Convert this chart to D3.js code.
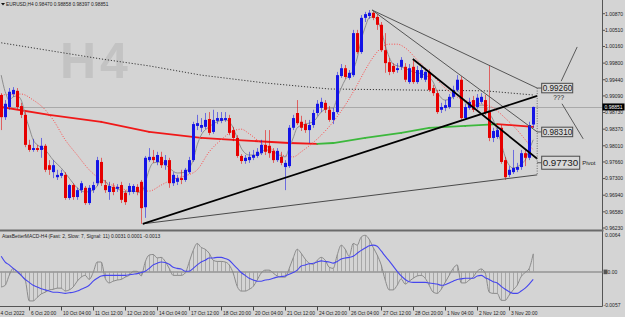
<!DOCTYPE html>
<html><head><meta charset="utf-8">
<script src="https://cdn.jsdelivr.net/npm/d3@7"></script>
<style>html,body{margin:0;padding:0;background:#d4d4d4;overflow:hidden}</style>
</head><body>
<svg id="c" width="625" height="317"></svg>
<script>
// ---------------- DATA ----------------
const symbolTitle = "EURUSD,H4";
const macdTitle = "AtasBetterMACD-H4 (Fast: 2, Slow: 7, Signal: 11) 0.0031 0.0001 -0.0013";
const opens = [0.9911,0.9863,0.9885,0.9913,0.9920,0.9887,0.9868,0.9803,0.9792,0.9796,
0.9792,0.9801,0.9759,0.9744,0.9733,0.9736,0.9738,0.9688,0.9716,0.9690,
0.9705,0.9710,0.9677,0.9705,0.9720,0.9766,0.9716,0.9701,0.9712,0.9708,
0.9716,0.9699,0.9701,0.9701,0.9712,0.9723,0.9668,0.9770,0.9777,0.9766,
0.9777,0.9759,0.9770,0.9720,0.9723,0.9731,0.9727,0.9744,0.9770,0.9844,
0.9840,0.9842,0.9859,0.9831,0.9855,0.9855,0.9857,0.9861,0.9835,0.9818,
0.9779,0.9768,0.9770,0.9775,0.9779,0.9785,0.9803,0.9801,0.9790,0.9770,
0.9777,0.9755,0.9757,0.9840,0.9872,0.9853,0.9848,0.9835,0.9846,0.9872,
0.9883,0.9894,0.9879,0.9857,0.9874,0.9952,0.9969,0.9948,0.9954,1.0045,
1.0004,1.0078,1.0082,1.0089,1.0080,1.0063,1.0008,0.9982,0.9974,0.9965,
0.9972,0.9972,0.9939,0.9972,0.9939,0.9948,0.9944,0.9961,0.9926,0.9915,
0.9879,0.9883,0.9885,0.9907,0.9922,0.9944,0.9861,0.9883,0.9900,0.9885,
0.9896,0.9900,0.9874,0.9818,0.9820,0.9840,0.9770,0.9738,0.9744,0.9749,
0.9755,0.9785,0.9775,0.98470];
const highs = [0.9915,0.9900,0.9926,0.9928,0.9926,0.9894,0.9874,0.9814,0.9816,0.9803,
0.9818,0.9805,0.9770,0.9770,0.9749,0.9749,0.9744,0.9718,0.9720,0.9710,
0.9725,0.9714,0.9716,0.9723,0.9777,0.9775,0.9727,0.9723,0.9720,0.9718,
0.9723,0.9705,0.9720,0.9718,0.9718,0.9727,0.9779,0.9796,0.9792,0.9788,
0.9788,0.9781,0.9775,0.9744,0.9738,0.9749,0.9753,0.9777,0.9853,0.9868,
0.9861,0.9872,0.9874,0.9879,0.9874,0.9874,0.9874,0.9868,0.9842,0.9824,
0.9783,0.9781,0.9788,0.9792,0.9796,0.9814,0.9835,0.9835,0.9796,0.9796,
0.9788,0.9770,0.9846,0.9868,0.9900,0.9866,0.9857,0.9857,0.9879,0.9900,
0.9905,0.9900,0.9887,0.9883,0.9961,0.9978,0.9976,0.9965,1.0052,1.0052,
1.0084,1.0091,1.0095,1.0093,1.0086,1.0069,1.0045,0.9991,0.9980,0.9980,
0.9993,0.9980,0.9978,0.9989,0.9974,0.9972,0.9969,0.9967,0.9933,0.9922,
0.9894,0.9900,0.9913,0.9931,0.9954,0.9952,0.9892,0.9905,0.9909,0.9913,
0.9915,0.9911,0.9976,0.9840,0.9842,0.9846,0.9777,0.9757,0.9792,0.9764,
0.9792,0.9792,0.9853,0.98858];
const lows = [0.9835,0.9857,0.9879,0.9907,0.9879,0.9861,0.9798,0.9788,0.9788,0.9788,
0.9775,0.9744,0.9738,0.9731,0.9727,0.9731,0.9684,0.9684,0.9684,0.9684,
0.9699,0.9673,0.9673,0.9699,0.9714,0.9714,0.9699,0.9684,0.9694,0.9701,
0.9677,0.9673,0.9694,0.9697,0.9694,0.9632,0.9645,0.9766,0.9764,0.9759,
0.9753,0.9749,0.9710,0.9714,0.9716,0.9718,0.9723,0.9740,0.9766,0.9835,
0.9831,0.9837,0.9824,0.9827,0.9848,0.9850,0.9853,0.9824,0.9811,0.9775,
0.9762,0.9762,0.9764,0.9770,0.9775,0.9781,0.9781,0.9775,0.9764,0.9766,
0.9759,0.9705,0.9753,0.9835,0.9846,0.9833,0.9829,0.9807,0.9840,0.9866,
0.9874,0.9872,0.9853,0.9848,0.9870,0.9948,0.9946,0.9944,0.9950,1.0000,
1.0000,1.0069,1.0076,1.0073,1.0052,1.0004,0.9959,0.9954,0.9957,0.9959,
0.9965,0.9939,0.9935,0.9935,0.9935,0.9944,0.9939,0.9918,0.9909,0.9870,
0.9872,0.9876,0.9881,0.9902,0.9918,0.9857,0.9857,0.9879,0.9874,0.9881,
0.9892,0.9868,0.9811,0.9809,0.9816,0.9762,0.9727,0.9733,0.9740,0.9744,
0.9749,0.9757,0.9770,0.98397];
const closes = [0.9863,0.9892,0.9918,0.9922,0.9885,0.9868,0.9803,0.9792,0.9796,0.9792,
0.9801,0.9749,0.9749,0.9759,0.9738,0.9742,0.9688,0.9716,0.9690,0.9705,
0.9720,0.9677,0.9710,0.9716,0.9770,0.9720,0.9705,0.9714,0.9701,0.9712,
0.9684,0.9679,0.9714,0.9714,0.9701,0.9666,0.9775,0.9777,0.9770,0.9781,
0.9759,0.9770,0.9720,0.9738,0.9731,0.9727,0.9749,0.9770,0.9848,0.9850,
0.9846,0.9857,0.9829,0.9857,0.9861,0.9861,0.9861,0.9829,0.9818,0.9779,
0.9768,0.9775,0.9777,0.9781,0.9788,0.9803,0.9788,0.9785,0.9770,0.9790,
0.9764,0.9764,0.9840,0.9861,0.9850,0.9840,0.9835,0.9846,0.9872,0.9892,
0.9896,0.9879,0.9857,0.9874,0.9954,0.9969,0.9950,0.9959,1.0045,1.0004,
1.0078,1.0086,1.0089,1.0078,1.0063,1.0008,0.9980,0.9961,0.9961,0.9969,
0.9987,0.9944,0.9969,0.9939,0.9965,0.9965,0.9961,0.9922,0.9915,0.9874,
0.9885,0.9889,0.9907,0.9922,0.9944,0.9861,0.9885,0.9896,0.9879,0.9905,
0.9907,0.9872,0.9818,0.9833,0.9835,0.9766,0.9733,0.9749,0.9753,0.9755,
0.9785,0.9775,0.9846,0.98851];

// moving averages: [bar index, price]
const maFast = [[0,0.9954],[1,0.9918],[2,0.9900],[3,0.9907],[4,0.9909],[5,0.9900],[6,0.9868],[7,0.9840],[8,0.9814],[9,0.9803],[10,0.9798],[11,0.9792],[13,0.9770],[15,0.9753],[17,0.9731],[19,0.9710],[21,0.9701],[23,0.9705],[24,0.9714],[25,0.9727],[26,0.9725],[27,0.9714],[29,0.9708],[31,0.9701],[33,0.9703],[35,0.9699],[36,0.9720],[37,0.9749],[38,0.9764],[40,0.9766],[42,0.9753],[44,0.9742],[46,0.9744],[47,0.9753],[48,0.9770],[49,0.9803],[50,0.9824],[52,0.9842],[54,0.9853],[56,0.9857],[57,0.9853],[58,0.9840],[59,0.9818],[60,0.9796],[62,0.9781],[64,0.9781],[66,0.9792],[68,0.9788],[70,0.9779],[71,0.9777],[72,0.9796],[73,0.9818],[74,0.9840],[76,0.9848],[78,0.9853],[80,0.9874],[82,0.9883],[83,0.9883],[84,0.9905],[86,0.9944],[88,0.9965],[89,0.9991],[90,1.0030],[91,1.0058],[92,1.0078],[93,1.0080],[94,1.0073],[95,1.0052],[96,1.0019],[97,0.9993],[98,0.9978],[100,0.9972],[103,0.9961],[106,0.9954],[108,0.9939],[109,0.9918],[111,0.9900],[113,0.9907],[114,0.9922],[115,0.9907],[117,0.9889],[120,0.9889],[121,0.9889],[122,0.9872],[123,0.9857],[124,0.9835],[125,0.9807],[126,0.9777],[127,0.9759],[128,0.9753],[129,0.9755],[130,0.9762],[131,0.9770],[132,0.9792],[133,0.9814]];
const maSlow = [[0,0.9911],[5,0.9913],[8,0.9900],[11,0.9879],[13,0.9857],[16,0.9814],[19,0.9781],[22,0.9749],[25,0.9727],[29,0.9712],[33,0.9703],[37,0.9703],[40,0.9716],[43,0.9729],[46,0.9736],[49,0.9749],[52,0.9788],[55,0.9814],[58,0.9833],[60,0.9837],[62,0.9827],[65,0.9807],[68,0.9792],[71,0.9779],[73,0.9777],[75,0.9788],[77,0.9801],[80,0.9824],[83,0.9853],[86,0.9889],[89,0.9933],[91,0.9965],[93,0.9993],[95,1.0013],[97,1.0021],[99,1.0021],[101,1.0013],[104,0.9987],[107,0.9961],[111,0.9926],[115,0.9902],[119,0.9894],[123,0.9883],[126,0.9861],[129,0.9835],[133,0.9792]];
const maTrend = [[0,0.9885],[12,0.9868],[25,0.9853],[37,0.9831],[50,0.9818],[58,0.9814],[72,0.9807],[79,0.9805],[83,0.9807],[91,0.9818],[100,0.9829],[107,0.9840],[116,0.9844],[124,0.9848],[133,0.9842]];
const maLong = [[0,1.0024],[25,0.9989],[37,0.9974],[50,0.9954],[66,0.9937],[82,0.9924],[100,0.9922],[121,0.9920],[133,0.9911]];

// drawn objects: [bar index, price]
const trendBlackUp = [[35.4,0.9632],[134,0.9909]];
const trendBlackDown = [[102.9,0.9989],[134,0.97730]];
const trendGrayUpper = [[92.7,1.0095],[134,0.99260]];
const trendGrayMid = [[92.7,1.0095],[134,0.98310]];
const trendGrayLow = [[35.4,0.9632],[134,0.9738]];
const projUp = [[140,0.9941],[144,1.0015]];
const projDown = [[140.2,0.9892],[145.5,0.9816]];
const vDotted = [[134,0.99260],[134,0.9738]];
const levelPrices = [0.99260, 0.98310, 0.97730];
const levelTexts = ["0.99260", "0.98310", "0.97730"];
const bidPrice = 0.98851;

// MACD panel
const macdVals = [-0.0026,-0.0023,-0.0006,0.0006,-0.0001,-0.0006,-0.0014,-0.0050,-0.0050,-0.0044,
-0.0038,-0.0035,-0.0031,-0.0030,-0.0028,-0.0028,-0.0033,-0.0031,-0.0026,-0.0016,
-0.0009,-0.0006,-0.0013,-0.0001,0.0017,0.0017,-0.0011,-0.0019,-0.0016,-0.0014,
-0.0013,-0.0009,-0.0006,0.0001,0.0001,-0.0007,0.0017,0.0029,0.0030,0.0024,
0.0025,0.0018,0.0006,-0.0006,-0.0006,-0.0006,-0.0002,0.0017,0.0037,0.0049,
0.0042,0.0039,0.0032,0.0020,0.0018,0.0018,0.0017,0.0012,-0.0002,-0.0025,
-0.0033,-0.0033,-0.0030,-0.0025,-0.0014,-0.0002,0.0003,0.0003,-0.0002,-0.0007,
-0.0009,-0.0009,0.0006,0.0024,0.0039,0.0032,0.0022,0.0015,0.0013,0.0020,
0.0025,0.0020,0.0008,0.0006,0.0029,0.0046,0.0039,0.0027,0.0049,0.0046,
0.0060,0.0063,0.0056,0.0042,0.0029,0.0012,-0.0014,-0.0031,-0.0031,-0.0023,
-0.0012,-0.0021,-0.0016,-0.0011,-0.0007,-0.0006,-0.0011,-0.0023,-0.0035,-0.0037,
-0.0030,-0.0018,-0.0006,0.0006,0.0012,-0.0019,-0.0019,-0.0014,-0.0009,0.0001,
0.0005,-0.0002,-0.0035,-0.0037,-0.0037,-0.0049,-0.0049,-0.0040,-0.0031,-0.0023,
-0.0008,-0.0001,0.0006,0.0031];
const signalVals = [0.0027,0.0017,0.0012,0.0006,0.0001,-0.0006,-0.0013,-0.0018,-0.0023,-0.0026,
-0.0029,-0.0031,-0.0033,-0.0035,-0.0035,-0.0036,-0.0037,-0.0036,-0.0035,-0.0033,
-0.0030,-0.0027,-0.0023,-0.0016,-0.0011,-0.0007,-0.0006,-0.0006,-0.0006,-0.0006,
-0.0006,-0.0006,-0.0005,-0.0004,-0.0003,-0.0001,0.0001,0.0006,0.0012,0.0015,
0.0017,0.0016,0.0013,0.0008,0.0006,0.0005,0.0001,0.0001,0.0006,0.0012,
0.0017,0.0020,0.0024,0.0024,0.0025,0.0025,0.0023,0.0020,0.0013,0.0006,
-0.0001,-0.0006,-0.0011,-0.0014,-0.0016,-0.0016,-0.0014,-0.0013,-0.0011,-0.0009,
-0.0008,-0.0007,-0.0004,-0.0001,0.0003,0.0010,0.0012,0.0014,0.0015,0.0017,
0.0019,0.0018,0.0017,0.0015,0.0018,0.0022,0.0024,0.0025,0.0027,0.0032,
0.0037,0.0041,0.0045,0.0046,0.0044,0.0036,0.0027,0.0019,0.0010,0.0001,
-0.0007,-0.0013,-0.0017,-0.0018,-0.0018,-0.0018,-0.0018,-0.0019,-0.0020,-0.0021,
-0.0023,-0.0022,-0.0019,-0.0016,-0.0013,-0.0012,-0.0011,-0.0011,-0.0011,-0.0007,
-0.0006,-0.0010,-0.0013,-0.0017,-0.0019,-0.0025,-0.0030,-0.0034,-0.0037,-0.0037,
-0.0033,-0.0028,-0.0021,-0.0013];

const priceTicks = [1.00870,1.00510,1.00160,0.99800,0.99440,0.99090,0.98730,0.98370,0.98010,0.97660,0.97300,0.96940,0.96580,0.96230];
const macdTicks = [0.0064, 0.0, -0.0057];
const macdTickText = ["0.0064", "0.00", "-0.0057"];
const timeTickIdx = [-0.3,7,15,23,31,39,47,55,63,71,79,87,95,103,111,119,127];
const timeTickText = ["4 Oct 2022","6 Oct 20:00","10 Oct 04:00","11 Oct 12:00","12 Oct 20:00","14 Oct 04:00","17 Oct 12:00","18 Oct 20:00","20 Oct 04:00","21 Oct 12:00","24 Oct 20:00","26 Oct 04:00","27 Oct 12:00","28 Oct 20:00","1 Nov 04:00","2 Nov 12:00","3 Nov 20:00"];

// ---------------- DRAW ----------------
const F = "'Liberation Sans', Arial, sans-serif";
const BG = "#d4d4d4", BULL = "#1414e6", BEAR = "#e60000";
const svg = d3.select("#c");
const W = 625, H = 317, AX = 602.5;
const x = d3.scaleLinear().domain([0, 133]).range([1.2, 533.2]);
const y = d3.scaleLinear().domain([0.96230, 1.00870]).range([228, 13.7]);
const yM = d3.scaleLinear().domain([-0.0057, 0.0064]).range([305, 234.7]);

svg.append("rect").attr("width", W).attr("height", H).attr("fill", BG);
const defs = svg.append("defs");
defs.append("clipPath").attr("id", "cm").append("rect").attr("x", 0).attr("y", 0).attr("width", AX).attr("height", 229);
defs.append("clipPath").attr("id", "cd").append("rect").attr("x", 0).attr("y", 232).attr("width", AX).attr("height", 74);

// watermark
svg.append("text").attr("x", 60).attr("y", 78).attr("font-family", F).attr("font-weight", "bold")
  .attr("font-size", 50).attr("letter-spacing", 4).attr("fill", "#c3c3c3").text("H4");

const main = svg.append("g").attr("clip-path", "url(#cm)");
const line = d3.line().x(d => x(d[0])).y(d => y(d[1]));

// bid line
main.append("line").attr("x1", 0).attr("x2", AX).attr("y1", Math.round(y(bidPrice)) + 0.5).attr("y2", Math.round(y(bidPrice)) + 0.5)
  .attr("stroke", "#a9a9a9").attr("stroke-width", 1);

// long dotted average
main.append("path").datum(maLong).attr("d", line).attr("fill", "none").attr("stroke", "#3a3a3a")
  .attr("stroke-width", 1).attr("stroke-dasharray", "1.2,1.8");

// thick trend MA coloured by slope
for (let k = 0; k < maTrend.length - 1; k++) {
  const a = maTrend[k], b = maTrend[k + 1];
  main.append("path").datum([a, b]).attr("d", line).attr("fill", "none")
    .attr("stroke", b[1] > a[1] ? "#3cb83c" : "#f01818").attr("stroke-width", 1.8).attr("stroke-linecap", "round");
}
// slow red dotted
main.append("path").datum(maSlow).attr("d", line.curve(d3.curveMonotoneX)).attr("fill", "none").attr("stroke", "#ff4a4a")
  .attr("stroke-width", 1).attr("stroke-dasharray", "1,1.6");
// fast gray
main.append("path").datum(maFast).attr("d", line.curve(d3.curveMonotoneX)).attr("fill", "none").attr("stroke", "#8e8e8e")
  .attr("stroke-width", 1);
line.curve(d3.curveLinear);

// candles
const idx = d3.range(opens.length);
const cg = main.append("g");
cg.selectAll("line.w").data(idx).join("line")
  .attr("x1", i => Math.round(x(i)) + 0.5).attr("x2", i => Math.round(x(i)) + 0.5)
  .attr("y1", i => y(highs[i])).attr("y2", i => y(lows[i]))
  .attr("stroke", i => closes[i] >= opens[i] ? BULL : BEAR).attr("stroke-opacity", 0.55).attr("stroke-width", 1);
cg.selectAll("rect.b").data(idx).join("rect")
  .attr("x", i => Math.round(x(i)) - 1).attr("width", 3)
  .attr("y", i => y(Math.max(opens[i], closes[i])))
  .attr("height", i => Math.max(1, Math.abs(y(opens[i]) - y(closes[i]))))
  .attr("fill", i => closes[i] >= opens[i] ? BULL : BEAR);

// trendlines
main.append("path").datum(trendGrayLow).attr("d", line).attr("stroke", "#4a4a4a").attr("stroke-width", 1).attr("fill", "none");
main.append("path").datum(trendGrayUpper).attr("d", line).attr("stroke", "#555").attr("stroke-width", 1).attr("fill", "none");
main.append("path").datum(trendGrayMid).attr("d", line).attr("stroke", "#555").attr("stroke-width", 1).attr("fill", "none");
main.append("path").datum(trendBlackUp).attr("d", line).attr("stroke", "#000").attr("stroke-width", 1.7).attr("fill", "none");
main.append("path").datum(trendBlackDown).attr("d", line).attr("stroke", "#000").attr("stroke-width", 1.7).attr("fill", "none");
main.append("path").datum(vDotted).attr("d", line).attr("stroke", "#6a6a6a").attr("stroke-width", 1).attr("stroke-dasharray", "1,1.5").attr("fill", "none");
main.append("path").datum(projUp).attr("d", line).attr("stroke", "#5a5a5a").attr("stroke-width", 1).attr("fill", "none");
main.append("path").datum(projDown).attr("d", line).attr("stroke", "#5a5a5a").attr("stroke-width", 1).attr("fill", "none");

// level labels
const xL = x(134);
levelPrices.forEach((p, k) => {
  const big = k === 2;
  const w = big ? 38 : 31, h = big ? 13 : 9.5, fs = big ? 9.8 : 8.2;
  const cy = y(p) + (big ? 4 : 0);
  main.append("line").attr("x1", xL).attr("x2", xL + 4.5).attr("y1", cy).attr("y2", cy).attr("stroke", "#555");
  main.append("rect").attr("x", xL + 4.5).attr("y", cy - h / 2).attr("width", w).attr("height", h)
    .attr("fill", "#d8d8d8").attr("stroke", "#4a4a4a").attr("stroke-width", 1);
  main.append("text").attr("x", xL + 5.5).attr("y", cy + fs * 0.36).attr("font-family", F).attr("font-size", fs)
    .attr("fill", "#1a1a1a").text(levelTexts[k]);
});
main.append("text").attr("x", xL + 16).attr("y", y(levelPrices[0]) + 12).attr("font-family", F).attr("font-size", 6.5)
  .attr("fill", "#222").text("???");
main.append("text").attr("x", xL + 45).attr("y", y(levelPrices[2]) + 6.5).attr("font-family", F).attr("font-size", 6)
  .attr("fill", "#222").text("Pivot");

// title
svg.append("path").attr("d", "M1,3 L5,3 L3,5.6 Z").attr("fill", "#111");
const last = opens.length - 1;
svg.append("text").attr("x", 6).attr("y", 6.2).attr("font-family", F).attr("font-size", 4.8).attr("fill", "#222")
  .text(symbolTitle + "  " + [opens[last], highs[last], lows[last], closes[last]].map(v => v.toFixed(5)).join(" "));

// price axis
svg.append("line").attr("x1", AX).attr("x2", AX).attr("y1", 0).attr("y2", 306.5).attr("stroke", "#555");
priceTicks.forEach(p => {
  const yy = y(p);
  svg.append("line").attr("x1", AX).attr("x2", AX + 2.5).attr("y1", yy).attr("y2", yy).attr("stroke", "#555");
  svg.append("text").attr("x", 605).attr("y", yy + 1.8).attr("font-family", F).attr("font-size", 5).attr("fill", "#222")
    .text(p.toFixed(5));
});
// bid label
const yb = y(bidPrice);
svg.append("rect").attr("x", AX).attr("y", yb - 3.5).attr("width", 22).attr("height", 7).attr("fill", "#000");
svg.append("text").attr("x", 604.5).attr("y", yb + 1.8).attr("font-family", F).attr("font-size", 5).attr("fill", "#fff")
  .text(bidPrice.toFixed(5));

// separator
svg.append("line").attr("x1", 0).attr("x2", AX + 1).attr("y1", 230.5).attr("y2", 230.5).attr("stroke", "#6a6a6a").attr("stroke-width", 2);

// MACD panel
const md = svg.append("g").attr("clip-path", "url(#cd)");
md.append("line").attr("x1", 0).attr("x2", AX).attr("y1", yM(0)).attr("y2", yM(0)).attr("stroke", "#a4a4a4").attr("stroke-width", 2);
md.selectAll("line.h").data(idx).join("line")
  .attr("x1", i => Math.round(x(i)) + 0.5).attr("x2", i => Math.round(x(i)) + 0.5)
  .attr("y1", yM(0)).attr("y2", i => yM(macdVals[i])).attr("stroke", "#9c9c9c").attr("stroke-width", 0.8);
md.append("path").datum(macdVals).attr("d", d3.line().x((d, i) => x(i)).y(d => yM(d)).curve(d3.curveMonotoneX))
  .attr("fill", "none").attr("stroke", "#8a8a8a").attr("stroke-width", 1);
md.append("path").datum(signalVals).attr("d", d3.line().x((d, i) => x(i)).y(d => yM(d)).curve(d3.curveMonotoneX))
  .attr("fill", "none").attr("stroke", "#4646ee").attr("stroke-width", 1.1);
svg.append("text").attr("x", 2).attr("y", 237.8).attr("font-family", F).attr("font-size", 4.9).attr("fill", "#222").text(macdTitle);
macdTicks.forEach((v, k) => {
  const yy = yM(v);
  if (k === 1) svg.append("rect").attr("x", AX + 1).attr("y", yy - 2.3).attr("width", 4).attr("height", 4.6).attr("fill", "#555");
  svg.append("text").attr("x", k === 1 ? 607.5 : (k === 2 ? 603.5 : 605)).attr("y", yy + 1.8).attr("font-family", F)
    .attr("font-size", 5).attr("fill", "#222").text(macdTickText[k]);
});

// time axis
svg.append("line").attr("x1", 0).attr("x2", AX).attr("y1", 306.5).attr("y2", 306.5).attr("stroke", "#555");
timeTickIdx.forEach((t, k) => {
  const xx = Math.round(x(t)) + 0.5;
  if (k > 0) svg.append("line").attr("x1", xx).attr("x2", xx).attr("y1", 306.5).attr("y2", 310.5).attr("stroke", "#444");
  svg.append("text").attr("x", k > 0 ? xx + 1.5 : Math.max(0.5, x(t))).attr("y", 315.2).attr("font-family", F)
    .attr("font-size", 4.9).attr("fill", "#222").text(timeTickText[k]);
});
</script>
</body></html>
